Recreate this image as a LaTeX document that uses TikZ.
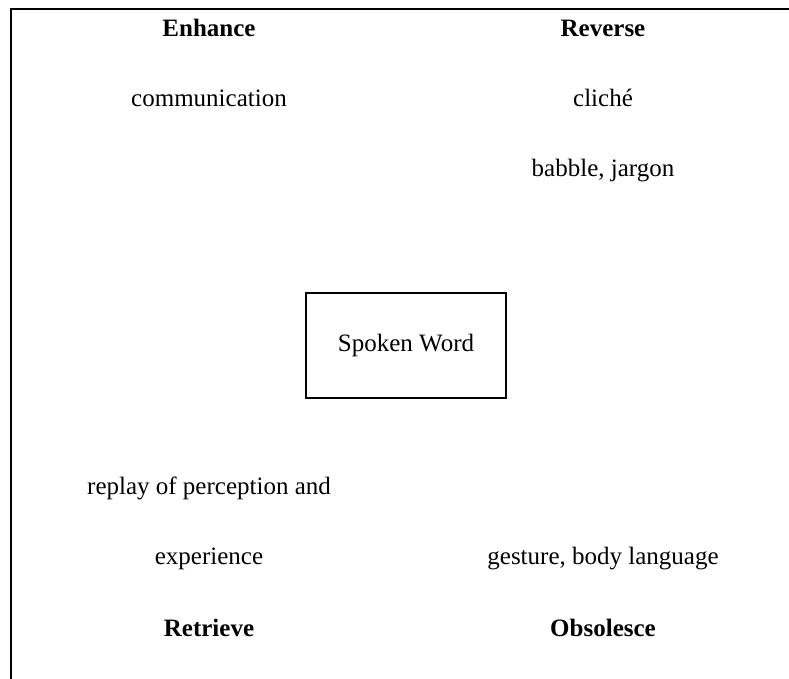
\documentclass[tikz,border=0pt]{standalone}
\usepackage{fontspec}
\setmainfont{Liberation Serif}
\tikzset{
  frameline/.style={line width=0.8pt},
  wordbox/.style={draw,line width=0.8pt,minimum width=80pt,minimum height=42pt,inner sep=0pt},
  law/.style={anchor=base,font=\bfseries,inner sep=0pt},
  effect/.style={anchor=base,inner sep=0pt}
}
\begin{document}
\begin{tikzpicture}[x=0.4pt,y=-0.4pt]
      \useasboundingbox (0,0) rectangle (789,679);
      \draw[frameline] (11,679) -- (11,9) -- (789,9);
      \node[wordbox] (medium) at (406,345.5) {Spoken Word};
      \node[law] (enhance) at (209,37) {Enhance};
      \node[law] (reverse) at (603,37) {Reverse};
      \node[effect] (communication) at (209,107) {communication};
      \node[effect] (cliche) at (603,107) {cliché};
      \node[effect] (babble) at (603,177) {babble, jargon};
      \node[effect] (replay) at (209,495) {replay of perception and};
      \node[effect] (experience) at (209,565) {experience};
      \node[effect] (gesture) at (603,565) {gesture, body language};
      \node[law] (retrieve) at (209,637) {Retrieve};
      \node[law] (obsolesce) at (603,637) {Obsolesce};
    \end{tikzpicture}
\end{document}
